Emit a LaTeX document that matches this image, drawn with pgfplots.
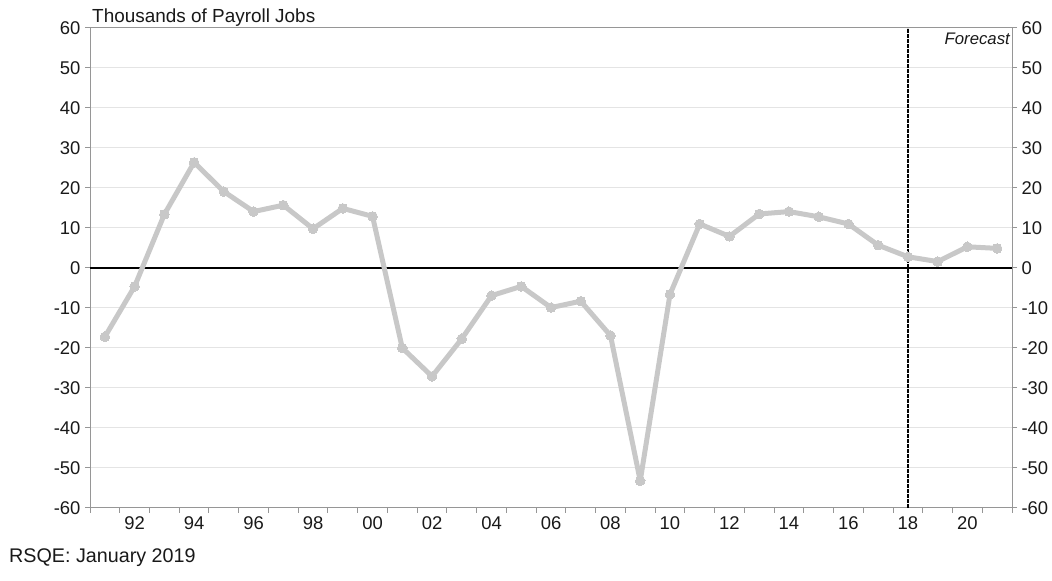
\documentclass[border=0pt]{standalone}
\usepackage{fontspec}
\setmainfont{Liberation Sans}
\usepackage{pgfplots}
\pgfplotsset{compat=1.18}
\definecolor{linegray}{RGB}{200,200,200}
\definecolor{axisgray}{RGB}{150,150,150}
\definecolor{gridgray}{RGB}{228,228,228}
\definecolor{txt}{RGB}{25,25,25}
\begin{document}
\begin{tikzpicture}[x=1bp,y=1bp]
\useasboundingbox (0,0) rectangle (1052,581);
\pgfplotsset{
  common/.style={
    at={(90bp,73bp)}, anchor=south west, scale only axis,
    width=922bp, height=480bp,
    xmin=1990.5, xmax=2021.5, ymin=-60, ymax=60,
    ytick={-60,-50,...,60},
    yticklabels={-60,-50,-40,-30,-20,-10,0,10,20,30,40,50,60},
    tick label style={font=\fontsize{18.5}{18.5}\selectfont, text=txt},
    major tick length=5bp,
    tick style={axisgray, line width=1bp},
    tick align=outside,
  }
}
\begin{axis}[common,
  axis line style={axisgray, line width=1bp},
  xtick={1990.5,1991.5,1992.5,1993.5,1994.5,1995.5,1996.5,1997.5,1998.5,1999.5,2000.5,2001.5,2002.5,2003.5,2004.5,2005.5,2006.5,2007.5,2008.5,2009.5,2010.5,2011.5,2012.5,2013.5,2014.5,2015.5,2016.5,2017.5,2018.5,2019.5,2020.5,2021.5},
  xticklabels={},
  xtick pos=bottom, ytick pos=left,
  extra x ticks={1992,1994,1996,1998,2000,2002,2004,2006,2008,2010,2012,2014,2016,2018,2020},
  extra x tick labels={92,94,96,98,00,02,04,06,08,10,12,14,16,18,20},
  extra x tick style={major tick length=0pt, grid=none,
    tick label style={yshift=-5bp}},
  ymajorgrids, grid style={gridgray, line width=1bp},
  yticklabel style={xshift=-1bp},
  clip=false,
]
\draw[black, line width=1.3bp] (axis cs:1990.5,0) -- (axis cs:2021.5,0);
\addplot[linegray, line width=5bp, line join=round, line cap=round, mark=*, mark size=4.8bp,
  mark options={fill=linegray, draw=linegray, line width=0bp}]
coordinates {
(1991,-17.2) (1992,-4.6) (1993,13.4) (1994,26.4) (1995,19.1) (1996,14.1)
(1997,15.7) (1998,9.8) (1999,14.9) (2000,12.9) (2001,-20.0) (2002,-27.1)
(2003,-17.7) (2004,-6.9) (2005,-4.6) (2006,-9.9) (2007,-8.3) (2008,-16.9)
(2009,-53.2) (2010,-6.6) (2011,11.0) (2012,7.9) (2013,13.5) (2014,14.1)
(2015,12.8) (2016,11.0) (2017,5.7) (2018,2.8) (2019,1.6) (2020,5.3) (2021,4.9)
};
\draw[black, line width=1.4bp, dash pattern=on 3.5bp off 1.5bp] (axis cs:2018,-60) -- (axis cs:2018,60);
\node[anchor=north east, inner sep=0pt, font=\fontsize{16.8}{16.8}\selectfont\itshape, text=txt]
  at ([xshift=-2bp,yshift=-5bp]rel axis cs:1,1) {Forecast};
\node[anchor=base west, inner sep=0pt, font=\fontsize{19}{19}\selectfont, text=txt]
  at ([xshift=2bp,yshift=5bp]rel axis cs:0,1) {Thousands of Payroll Jobs};
\end{axis}
\begin{axis}[common,
  axis x line=none, axis y line*=right,
  axis line style={axisgray, line width=1bp},
  yticklabel style={xshift=1bp},
]
\end{axis}
\node[anchor=base west, inner sep=0pt, font=\fontsize{19.8}{19.8}\selectfont, text=txt]
  at (9,18) {RSQE: January 2019};
\end{tikzpicture}
\end{document}
